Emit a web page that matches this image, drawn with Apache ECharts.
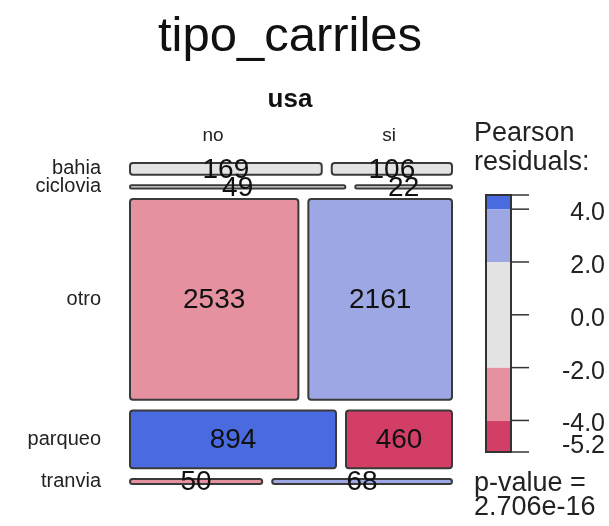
<!DOCTYPE html>
<html><head><meta charset="utf-8">
<script src="https://cdn.jsdelivr.net/npm/echarts@6/dist/echarts.min.js"></script>
<style>html,body{margin:0;padding:0;background:#fff}#c{width:609px;height:526px}</style>
</head><body><div id="c"></div>
<script>
// ---- data ----
const rowNames = ['bahia', 'ciclovia', 'otro', 'parqueo', 'tranvia'];
const colNames = ['no', 'si'];
const countsNo = [169, 49, 2533, 894, 50];
const countsSi = [106, 22, 2161, 460, 68];
const titleText = 'tipo_carriles';
const colVarName = 'usa';
const legendTitle = ['Pearson', 'residuals:'];
const pValueText = ['p-value =', '2.706e-16'];
const legendTicks = [-4, -2, 0, 2, 4];
const shadeBreaks = [-Infinity, -4, -2, 2, 4, Infinity];
const shadeColors = ['#d33e67', '#e6919f', '#e3e3e3', '#9ca7e3', '#4a6be0'];

// ---- derived ----
const FONT = 'Liberation Sans, Arial, sans-serif';
const rowTot = countsNo.map((v, i) => v + countsSi[i]);
const colTot = [countsNo.reduce((a, b) => a + b, 0), countsSi.reduce((a, b) => a + b, 0)];
const total = colTot[0] + colTot[1];
function resid(o, r, c) { const e = rowTot[r] * colTot[c] / total; return (o - e) / Math.sqrt(e); }
function shade(r) { for (let i = 0; i < shadeColors.length; i++) if (r >= shadeBreaks[i] && r < shadeBreaks[i + 1]) return shadeColors[i]; return shadeColors[2]; }

const gapX = 0.031, gapY = 0.033;
const contentY = 1 - gapY * (rowNames.length - 1);
const cells = [];
let yCur = 0;
rowNames.forEach((name, r) => {
  const h = contentY * rowTot[r] / total;
  const wNo = (1 - gapX) * countsNo[r] / rowTot[r];
  cells.push({ value: [0, wNo, yCur, yCur + h, countsNo[r], resid(countsNo[r], r, 0), r, 0] });
  cells.push({ value: [wNo + gapX, 1, yCur, yCur + h, countsSi[r], resid(countsSi[r], r, 1), r, 1] });
  yCur += h + gapY;
});
const allRes = cells.map(c => c.value[5]);
const rMin = Math.min(...allRes), rMax = Math.max(...allRes);
const bands = [];
for (let i = 0; i < shadeColors.length; i++) {
  const lo = Math.max(shadeBreaks[i], rMin), hi = Math.min(shadeBreaks[i + 1], rMax);
  if (hi > lo) bands.push([lo, hi, i]);
}
const tickVals = [rMin].concat(legendTicks, [rMax]);
const labelVals = [rMin].concat(legendTicks);

const chart = echarts.init(document.getElementById('c'), null, { renderer: 'canvas' });
chart.setOption({
  animation: false,
  backgroundColor: '#fff',
  grid: [
    { left: 130, right: 157, top: 163, bottom: 42 },
    { left: 486, right: 98, top: 195, bottom: 74 }
  ],
  xAxis: [
    { gridIndex: 0, type: 'value', min: 0, max: 1, show: false },
    { gridIndex: 1, type: 'value', min: 0, max: 1, show: false }
  ],
  yAxis: [
    { gridIndex: 0, type: 'value', min: 0, max: 1, inverse: true, show: false },
    { gridIndex: 1, type: 'value', min: rMin, max: rMax, show: false }
  ],
  series: [
    {
      type: 'custom', xAxisIndex: 0, yAxisIndex: 0, clip: false,
      data: cells,
      renderItem: function (params, api) {
        const p0 = api.coord([api.value(0), api.value(2)]);
        const p1 = api.coord([api.value(1), api.value(3)]);
        const res = api.value(5);
        const children = [
          { type: 'rect', shape: { x: p0[0], y: p0[1], width: p1[0] - p0[0], height: p1[1] - p0[1], r: 3 },
            style: { fill: shade(res), stroke: '#3a3a3a', lineWidth: 2 } },
          { type: 'text', z2: 10, style: { text: String(api.value(4)), x: (p0[0] + p1[0]) / 2, y: (p0[1] + p1[1]) / 2 + 1,
            align: 'center', verticalAlign: 'middle', font: '28px ' + FONT, fill: '#111' } }
        ];
        if (api.value(7) === 0) {
          children.push({ type: 'text', z2: 10, style: { text: rowNames[api.value(6)], x: p0[0] - 29, y: (p0[1] + p1[1]) / 2,
            align: 'right', verticalAlign: 'middle', font: '20px ' + FONT, fill: '#222' } });
        }
        return { type: 'group', children: children };
      }
    },
    {
      type: 'custom', xAxisIndex: 1, yAxisIndex: 1, clip: false,
      data: bands,
      renderItem: function (params, api) {
        const p0 = api.coord([0, api.value(1)]);
        const p1 = api.coord([1, api.value(0)]);
        return { type: 'rect', shape: { x: p0[0], y: p0[1], width: p1[0] - p0[0], height: p1[1] - p0[1] },
          style: { fill: shadeColors[api.value(2)] } };
      }
    },
    {
      type: 'custom', xAxisIndex: 1, yAxisIndex: 1, clip: false,
      data: [[rMin, rMax]],
      renderItem: function (params, api) {
        const p0 = api.coord([0, api.value(1)]);
        const p1 = api.coord([1, api.value(0)]);
        return { type: 'rect', shape: { x: p0[0], y: p0[1], width: p1[0] - p0[0], height: p1[1] - p0[1] },
          style: { fill: 'none', stroke: '#333', lineWidth: 2 } };
      }
    },
    {
      type: 'custom', xAxisIndex: 1, yAxisIndex: 1, clip: false,
      data: tickVals.map(v => [v]),
      renderItem: function (params, api) {
        const p = api.coord([1, api.value(0)]);
        return { type: 'line', shape: { x1: p[0], y1: p[1], x2: p[0] + 18, y2: p[1] },
          style: { stroke: '#333', lineWidth: 1.5 } };
      }
    },
    {
      type: 'custom', xAxisIndex: 1, yAxisIndex: 1, clip: false,
      data: labelVals.map((v, i) => [v, i]),
      renderItem: function (params, api) {
        const v = api.value(0);
        const p = api.coord([1, v]);
        const dy = api.value(1) === 0 ? -6 : 4;
        return { type: 'text', style: { text: v.toFixed(1), x: 605, y: p[1] + dy, align: 'right', verticalAlign: 'middle',
          font: '25px ' + FONT, fill: '#222' } };
      }
    }
  ],
  graphic: [
    { type: 'text', style: { text: titleText, x: 290, y: 37, align: 'center', verticalAlign: 'middle', font: '49px ' + FONT, fill: '#111' } },
    { type: 'text', style: { text: colVarName, x: 290, y: 100, align: 'center', verticalAlign: 'middle', font: 'bold 26px ' + FONT, fill: '#111' } },
    { type: 'text', style: { text: colNames[0], x: 213, y: 136, align: 'center', verticalAlign: 'middle', font: '19px ' + FONT, fill: '#222' } },
    { type: 'text', style: { text: colNames[1], x: 389, y: 136, align: 'center', verticalAlign: 'middle', font: '19px ' + FONT, fill: '#222' } },
    { type: 'text', style: { text: legendTitle.join('\n'), x: 474, y: 119, align: 'left', verticalAlign: 'top', font: '27px ' + FONT, lineHeight: 29, fill: '#222' } },
    { type: 'text', style: { text: pValueText.join('\n'), x: 474, y: 472, align: 'left', verticalAlign: 'top', font: '27px ' + FONT, lineHeight: 24, fill: '#222' } }
  ]
});
</script></body></html>
